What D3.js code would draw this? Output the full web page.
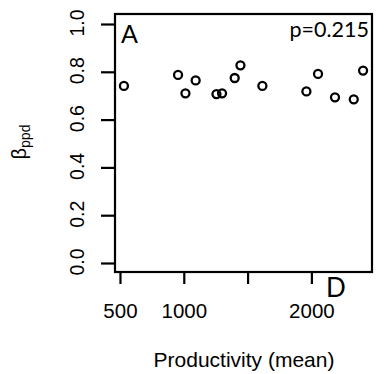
<!DOCTYPE html>
<html><head><meta charset="utf-8">
<script src="https://cdn.jsdelivr.net/npm/d3@7"></script>
<style>body{margin:0;background:#fff}</style>
</head><body>
<svg id="c" width="386" height="374"></svg>
<script>
const productivity = [531, 955, 1013, 1093, 1256, 1300, 1399, 1444, 1616, 1961, 2052, 2185, 2332, 2405];
const beta = [0.741, 0.787, 0.710, 0.764, 0.707, 0.710, 0.774, 0.827, 0.741, 0.718, 0.791, 0.693, 0.685, 0.805];
const xTicks = [500, 1000, 1500, 2000];
const xTickLabels = ["500", "1000", "", "2000"];
const yTicks = [0, 0.2, 0.4, 0.6, 0.8, 1.0];
const yTickLabels = ["0.0", "0.2", "0.4", "0.6", "0.8", "1.0"];
const panelLabel = "A";
const cornerLabel = "D";
const pText = "p=0.215";

const svg = d3.select("#c");
const L = 115, R = 372, T = 14, B = 272;
const x = d3.scaleLinear().domain([461, 2475]).range([L, R]);
const y = d3.scaleLinear().domain([0, 1]).range([263, 24]);
const axFont = "'Liberation Sans', Arial, sans-serif";

// frame
svg.append("rect").attr("x", L).attr("y", T).attr("width", R - L).attr("height", B - T)
  .attr("fill", "none").attr("stroke", "#000").attr("stroke-width", 2.2);

// y axis
const ya = svg.append("g").attr("transform", `translate(${L},0)`)
  .call(d3.axisLeft(y).tickValues(yTicks).tickSize(14).tickFormat((d, i) => ""));
ya.select(".domain").remove();
ya.selectAll("line").attr("stroke-width", 2.2).attr("stroke", "#000");
svg.append("g").selectAll("text").data(yTicks).join("text")
  .attr("transform", d => `translate(84,${y(d) - 1}) rotate(-90)`)
  .attr("text-anchor", "middle").attr("font-family", axFont).attr("font-size", 19.5)
  .text((d, i) => yTickLabels[i]);

// x axis
const xa = svg.append("g").attr("transform", `translate(0,${B})`)
  .call(d3.axisBottom(x).tickValues(xTicks).tickSize(12).tickFormat((d, i) => xTickLabels[i]));
xa.select(".domain").remove();
xa.selectAll("line").attr("stroke-width", 2.2).attr("stroke", "#000");
xa.selectAll("text").attr("font-family", axFont).attr("font-size", 20.5).attr("fill", "#000")
  .attr("y", 0).attr("dy", 0).attr("transform", "translate(0,46)");

// points
svg.append("g").selectAll("circle").data(productivity).join("circle")
  .attr("cx", d => x(d)).attr("cy", (d, i) => y(beta[i])).attr("r", 4)
  .attr("fill", "none").attr("stroke", "#000").attr("stroke-width", 2.3);

// labels
svg.append("text").attr("x", 121).attr("y", 43).attr("font-family", "Lato, 'Open Sans', sans-serif")
  .attr("font-size", 25).text(panelLabel);
svg.append("text").attr("x", 369).attr("y", 37).attr("text-anchor", "end")
  .attr("font-family", "Lato, 'Open Sans', sans-serif").attr("font-size", 21.5).text(pText);
svg.append("text").attr("x", 326).attr("y", 297).attr("font-family", "Lato, 'Open Sans', sans-serif")
  .attr("font-size", 26).text(cornerLabel);

svg.append("text").attr("x", 244).attr("y", 367).attr("text-anchor", "middle")
  .attr("font-family", axFont).attr("font-size", 21).text("Productivity (mean)");

const yl = svg.append("text").attr("transform", "translate(26,142) rotate(-90)")
  .attr("text-anchor", "middle").attr("font-family", axFont).attr("font-size", 20);
yl.append("tspan").text("β");
yl.append("tspan").attr("font-size", 14).attr("dy", 4).text("ppd");
</script>
</body></html>
